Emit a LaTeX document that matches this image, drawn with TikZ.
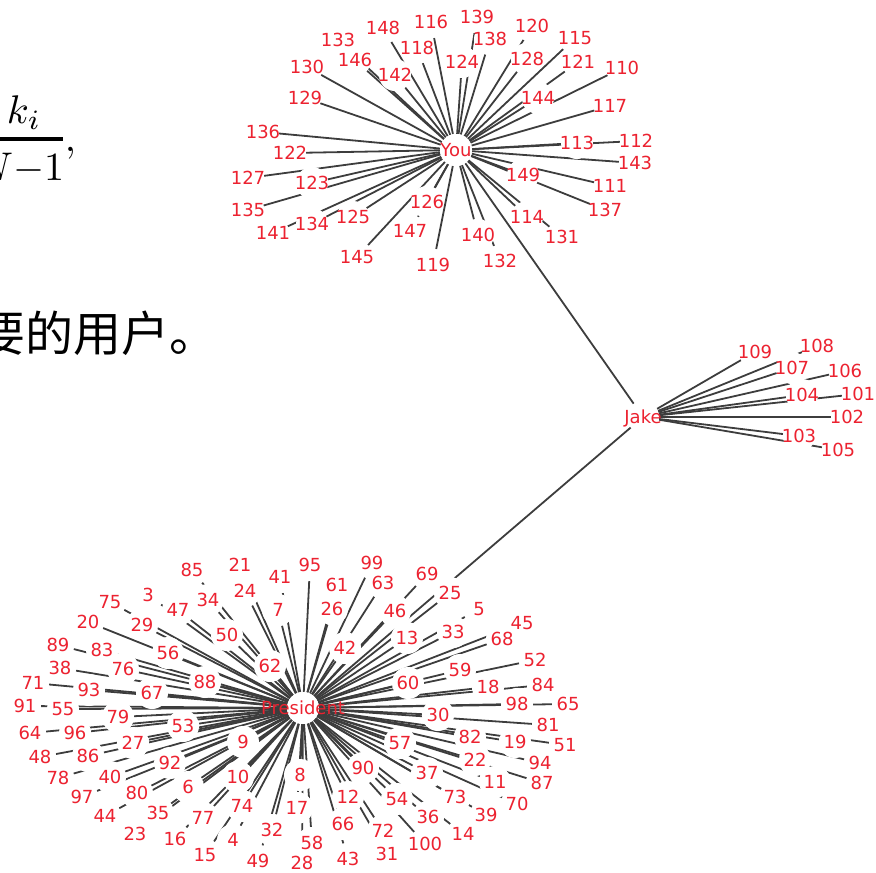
\documentclass[tikz,border=0pt]{standalone}
\usepackage{fontspec}
\newfontfamily\lblfont{DejaVu Sans}
\newfontfamily\cjkfont{Noto Sans CJK SC}
\pgfdeclarelayer{bg}
\pgfsetlayers{bg,main}
\definecolor{lblred}{RGB}{236,34,48}
\def\youlist{148/383/28,133/338/40,130/307/67,146/355/60,142/395/75,118/417/48,129/305/98,136/263/132,116/431/22,139/477/17,138/490/39,124/462/62,120/532/26,128/527/59,115/575/38,121/578/62,110/622/68,144/538/98,117/610/106,113/577/143,112/636/141,143/635/163,149/523/175,111/610/186,137/605/210,114/527/217,131/562/237,140/478/235,132/500/261,119/433/265,126/427/202,147/410/231,145/357/257,125/353/217,134/312/224,141/273/233,135/248/210,123/312/183,127/248/178,122/290/153}
\def\jakelist{109/755/352,108/817/346,107/792/368,106/845/371,104/802/395,101/858/394,102/847/417,103/799/436,105/838/450}
\def\preslist{85/192/570,3/148/595,34/208/600,75/110/602,47/178/610,20/88/622,29/142/625,89/58/645,83/102/650,56/168/653,38/60/668,76/123/669,88/205/682,71/33/683,93/89/690,67/152/693,91/25/706,55/63/709,79/118/717,53/183/726,64/30/733,96/75/733,27/133/743,48/40/757,86/88/756,92/170/763,78/58/778,40/110/777,6/188/787,97/82/797,80/137/793,44/105/816,35/158/813,77/203/818,23/135/834,16/175/839,15/205/855,21/240/565,95/310/565,99/372/563,41/280/577,61/337/585,63/383/583,24/245/591,7/278/610,26/332/609,46/395/611,50/227/635,13/407/638,42/345/648,62/270/666,60/408/683,69/427/574,25/450/593,5/479/609,33/453/632,45/522/623,68/502/639,52/535/660,59/460/670,18/488/687,84/543/685,98/517/704,65/568/704,9/243/742,57/400/743,10/238/777,8/300/775,90/363/768,74/242/806,17/297/808,12/348/797,54/397/799,32/272/830,4/233/840,66/343/824,72/383/831,58/312/843,49/258/861,28/302/863,43/348/859,31/387/854,30/438/715,81/548/725,82/470/737,19/515/742,51/565/745,22/475/760,94/540/763,37/427/773,11/495/782,87/542/783,73/455/797,70/517/804,39/486/815,36/428/817,14/463/834,100/425/844}
\begin{document}
\begin{tikzpicture}[x=1pt,y=-1pt,
  disk/.style={circle,fill=white,minimum size=32pt,inner sep=0pt},
  txt/.style={text=lblred,font=\lblfont\fontsize{18}{20}\selectfont,inner sep=0pt,text height=13pt,text depth=0pt},
  edge/.style={draw=black!76,line width=1.8pt},
  bigmath/.style={inner sep=0pt,scale=4,transform shape,font=\fontsize{10}{12}\selectfont}]
\useasboundingbox (0,0) rectangle (876,873);
\clip (0,0) rectangle (876,873);
% formula fragment and Chinese text
\node[bigmath,anchor=base] (num) at (24,123) {$k_i$};
\coordinate (barL) at (-30,139);
\coordinate (barR) at (63,139);
\draw[line width=3.5pt] (barL) -- (barR);
\node[bigmath,anchor=base east] (den) at (65,180) {$N{-}1$};
\node[bigmath,anchor=base west] (comma) at (64,151) {$,$};
\node[inner sep=0pt,anchor=base west,font=\cjkfont\fontsize{48}{48}\selectfont] (cjk) at (-23,351) {要的用户。};
% hubs
\node[disk] (You) at (456,150) {};
\node[disk] (Jake) at (643,417) {};
\node[disk] (President) at (303,708) {};
\foreach \n/\x/\y in \youlist {\node[disk] (n\n) at (\x,\y) {};}
\foreach \n/\x/\y in \jakelist {\node[disk] (n\n) at (\x,\y) {};}
\foreach \n/\x/\y in \preslist {\node[disk] (n\n) at (\x,\y) {};}
\begin{pgfonlayer}{bg}
\foreach \n/\x/\y in \youlist {\draw[edge] (You) -- (n\n);}
\foreach \n/\x/\y in \jakelist {\draw[edge] (Jake) -- (n\n);}
\foreach \n/\x/\y in \preslist {\draw[edge] (President) -- (n\n);}
\draw[edge] (You) -- (Jake);
\draw[edge] (Jake) -- (President);
\end{pgfonlayer}
\foreach \n/\x/\y in \youlist {\node[txt] (t\n) at (n\n) {\n};}
\foreach \n/\x/\y in \jakelist {\node[txt] (t\n) at (n\n) {\n};}
\foreach \n/\x/\y in \preslist {\node[txt] (t\n) at (n\n) {\n};}
\node[txt] (tYou) at (You) {You};
\node[txt] (tJake) at (Jake) {Jake};
\node[txt] (tPresident) at (President) {President};
\end{tikzpicture}
\end{document}
